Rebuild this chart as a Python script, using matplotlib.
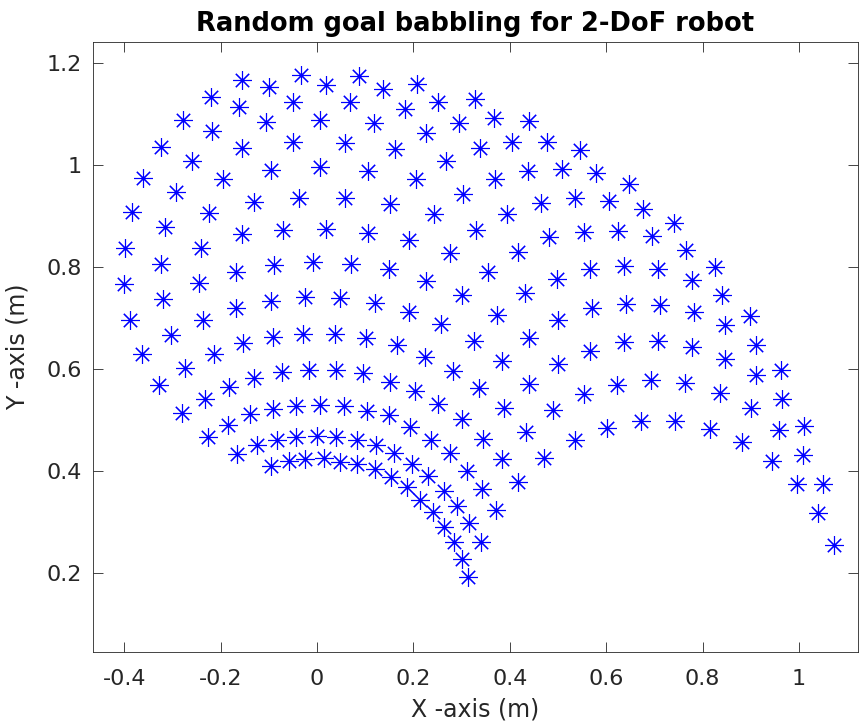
import matplotlib
matplotlib.use("Agg")
import matplotlib.pyplot as plt

# ==========================================
# END-EFFECTOR POSITIONS (m)
# ==========================================

x_pos = [
    -0.155, -0.100, -0.220, -0.162, -0.050, -0.277, -0.217, -0.106, -0.050, -0.324,
    -0.155, -0.259, -0.096, -0.361, -0.196, -0.293, -0.131, -0.384, -0.224, -0.315,
    -0.155, -0.071, -0.033, 0.018, 0.087, 0.136, 0.207, 0.068, 0.183, 0.252,
    0.328, 0.006, 0.118, 0.226, 0.295, 0.058, 0.162, 0.338, 0.267, 0.006,
    0.106, 0.205, 0.302, -0.037, 0.058, 0.151, 0.243, 0.019, 0.106, 0.191,
    0.330, 0.367, 0.440, 0.405, 0.478, 0.546, 0.369, 0.438, 0.508, 0.579,
    0.648, 0.395, 0.464, 0.536, 0.606, 0.677, 0.482, 0.554, 0.624, 0.696,
    0.741, -0.398, -0.241, -0.324, -0.167, -0.090, -0.400, -0.245, -0.319, -0.167,
    -0.096, -0.388, -0.236, -0.302, -0.153, -0.091, -0.364, -0.214, -0.273, -0.130,
    -0.073, -0.328, -0.182, -0.232, -0.281, -0.139, -0.092, -0.008, 0.070, 0.150,
    0.276, 0.227, -0.024, 0.048, 0.120, 0.190, 0.301, 0.257, -0.028, 0.037,
    0.102, 0.165, 0.326, 0.224, -0.017, 0.039, 0.096, 0.151, 0.283, 0.203,
    0.336, -0.044, 0.006, 0.055, 0.103, 0.149, 0.252, 0.416, 0.355, 0.497,
    0.566, 0.636, 0.707, 0.431, 0.373, 0.501, 0.570, 0.641, 0.712, 0.440,
    0.383, 0.500, 0.566, 0.637, 0.707, 0.440, 0.554, 0.622, 0.693, 0.388,
    0.490, 0.765, 0.826, 0.777, 0.841, 0.782, 0.899, 0.847, 0.910, 0.779,
    0.846, 0.911, 0.963, 0.764, 0.836, 0.964, 0.900, -0.184, -0.227, -0.125,
    -0.084, -0.165, -0.096, -0.058, 0.193, 0.300, -0.044, -0.001, 0.039, 0.082,
    0.122, 0.237, 0.160, 0.275, -0.024, 0.014, 0.048, 0.084, 0.197, 0.311,
    0.120, 0.153, 0.230, 0.186, 0.264, 0.214, 0.290, 0.342, 0.241, 0.316,
    0.264, 0.340, 0.284, 0.300, 0.314, 0.345, 0.433, 0.535, 0.601, 0.672,
    0.383, 0.471, 0.416, 0.371, 0.743, 0.815, 0.881, 0.959, 1.011, 0.943,
    1.009, 0.995, 1.049, 1.040, 1.073,
]

y_pos = [
    1.167, 1.152, 1.133, 1.113, 1.124, 1.089, 1.066, 1.085, 1.045, 1.035,
    1.033, 1.008, 0.990, 0.975, 0.972, 0.946, 0.928, 0.907, 0.906, 0.878,
    0.865, 0.873, 1.176, 1.156, 1.174, 1.148, 1.159, 1.124, 1.109, 1.124,
    1.129, 1.088, 1.082, 1.063, 1.082, 1.043, 1.031, 1.033, 1.007, 0.995,
    0.988, 0.973, 0.943, 0.936, 0.936, 0.924, 0.903, 0.875, 0.867, 0.853,
    0.873, 1.092, 1.086, 1.044, 1.045, 1.030, 0.972, 0.988, 0.992, 0.985,
    0.963, 0.903, 0.925, 0.935, 0.929, 0.914, 0.859, 0.869, 0.871, 0.861,
    0.886, 0.837, 0.837, 0.806, 0.790, 0.804, 0.766, 0.768, 0.737, 0.719,
    0.734, 0.696, 0.696, 0.667, 0.650, 0.662, 0.629, 0.629, 0.602, 0.582,
    0.594, 0.568, 0.564, 0.541, 0.514, 0.512, 0.522, 0.810, 0.806, 0.795,
    0.827, 0.772, 0.741, 0.740, 0.730, 0.712, 0.745, 0.688, 0.669, 0.669,
    0.660, 0.647, 0.655, 0.624, 0.598, 0.598, 0.592, 0.575, 0.596, 0.557,
    0.562, 0.528, 0.529, 0.528, 0.518, 0.510, 0.531, 0.829, 0.790, 0.777,
    0.795, 0.802, 0.795, 0.748, 0.705, 0.696, 0.719, 0.727, 0.725, 0.661,
    0.616, 0.609, 0.636, 0.652, 0.654, 0.571, 0.551, 0.569, 0.578, 0.523,
    0.520, 0.833, 0.799, 0.775, 0.744, 0.712, 0.703, 0.686, 0.647, 0.643,
    0.620, 0.588, 0.598, 0.572, 0.552, 0.542, 0.524, 0.490, 0.467, 0.450,
    0.461, 0.433, 0.410, 0.420, 0.486, 0.502, 0.467, 0.469, 0.467, 0.461,
    0.450, 0.461, 0.435, 0.435, 0.424, 0.425, 0.418, 0.414, 0.413, 0.400,
    0.404, 0.388, 0.391, 0.368, 0.361, 0.343, 0.332, 0.365, 0.319, 0.297,
    0.290, 0.261, 0.261, 0.227, 0.193, 0.463, 0.476, 0.461, 0.485, 0.497,
    0.423, 0.425, 0.378, 0.324, 0.497, 0.482, 0.456, 0.480, 0.488, 0.420,
    0.431, 0.374, 0.374, 0.317, 0.254,
]

x_ticks = [-0.4, -0.2, 0, 0.2, 0.4, 0.6, 0.8, 1]
x_tick_labels = ["-0.4", "-0.2", "0", "0.2", "0.4", "0.6", "0.8", "1"]
y_ticks = [0.2, 0.4, 0.6, 0.8, 1.0, 1.2]
y_tick_labels = ["0.2", "0.4", "0.6", "0.8", "1", "1.2"]

# ==========================================
# PLOT
# ==========================================

axis_gray = (0.15, 0.15, 0.15)

fig = plt.figure(figsize=(8.6, 7.22), dpi=100)
ax = fig.add_axes([93 / 860, 70 / 722, 765 / 860, 610 / 722])

ax.plot(
    x_pos,
    y_pos,
    linestyle="none",
    marker=(8, 2, 0),
    markersize=13.5,
    markeredgewidth=0.8,
    color="blue",
)

ax.set_xlim(-0.4647, 1.1224)
ax.set_ylim(0.045, 1.241)

ax.set_xticks(x_ticks)
ax.set_xticklabels(x_tick_labels)
ax.set_yticks(y_ticks)
ax.set_yticklabels(y_tick_labels)

ax.tick_params(
    direction="in",
    length=7,
    width=0.6,
    colors=axis_gray,
    labelsize=16,
    top=True,
    right=True,
    pad=8,
)
ax.tick_params(axis="x", pad=12)
for spine in ax.spines.values():
    spine.set_color(axis_gray)
    spine.set_linewidth(0.6)

ax.set_title("Random goal babbling for 2-DoF robot", fontsize=18.5, fontweight="bold", pad=8)
ax.set_xlabel("X -axis (m)", fontsize=17, color=axis_gray, labelpad=6)
ax.set_ylabel("Y -axis (m)", fontsize=17, color=axis_gray, labelpad=12)

fig.savefig("out.png", dpi=100)
plt.close(fig)
